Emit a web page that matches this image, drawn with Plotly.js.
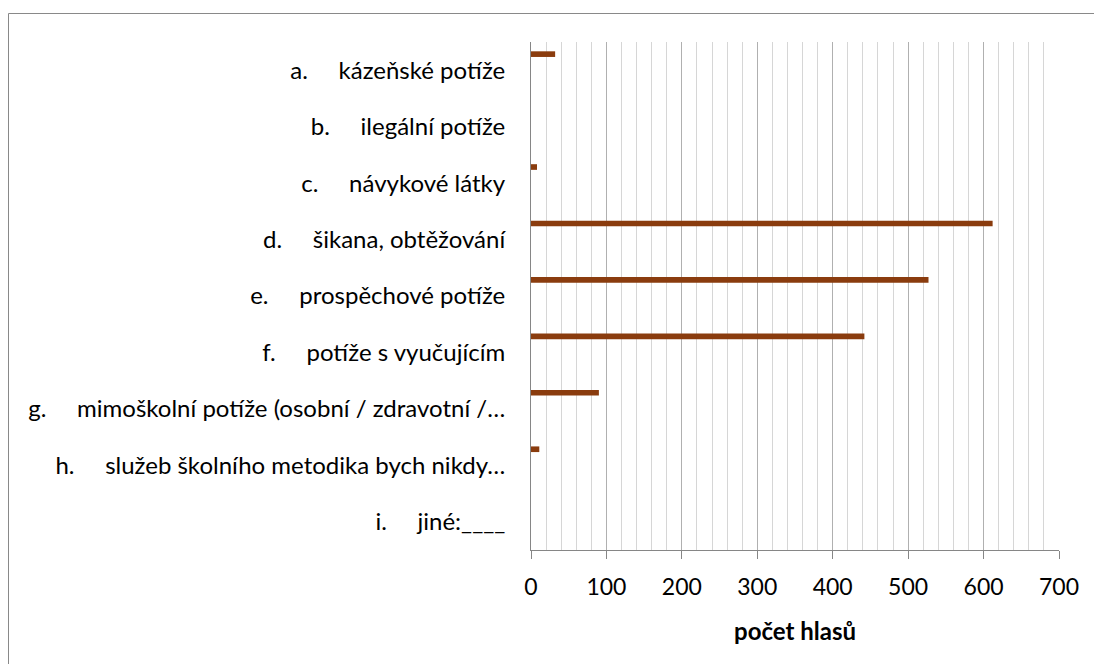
<!DOCTYPE html>
<html>
<head>
<meta charset="utf-8">
<script src="https://cdn.plot.ly/plotly-3.0.1.min.js"></script>
<style>
  html, body { margin: 0; padding: 0; background: #fff; }
  #chart { width: 1094px; height: 664px; }
</style>
</head>
<body>
<div id="chart"></div>
<script>
const GAP = '\u00A0\u00A0\u00A0\u00A0\u00A0';
const letters = ['a.', 'b.', 'c.', 'd.', 'e.', 'f.', 'g.', 'h.', 'i.'];
const names = [
  'kázeňské potíže',
  'ilegální potíže',
  'návykové látky',
  'šikana, obtěžování',
  'prospěchové potíže',
  'potíže s vyučujícím',
  'mimoškolní potíže (osobní / zdravotní /…',
  'služeb školního metodika bych nikdy…',
  'jiné:____'
];
const votes = [32, 0, 8, 612, 527, 442, 90, 11, 0];
const xTickValues = [0, 100, 200, 300, 400, 500, 600, 700];
const xTitle = 'počet hlasů';

const categories = letters.map((l, i) => l + GAP + names[i]);

const trace = {
  type: 'bar',
  orientation: 'h',
  x: votes,
  y: categories,
  offset: -0.335,
  width: 0.1,
  marker: { color: '#8a3c0e', line: { width: 0 } },
  hoverinfo: 'x+y'
};

const layout = {
  width: 1094,
  height: 664,
  margin: { l: 531, r: 35, t: 42, b: 114, pad: 0 },
  paper_bgcolor: '#ffffff',
  plot_bgcolor: '#ffffff',
  showlegend: false,
  font: { family: 'Lato, "Open Sans", sans-serif', size: 24, color: '#000000' },
  xaxis: {
    range: [0, 700],
    tickvals: xTickValues,
    showgrid: true,
    gridcolor: '#b0b0b0',
    gridwidth: 1,
    minor: { dtick: 20, showgrid: true, gridcolor: '#d6d6d6', gridwidth: 1, ticks: '' },
    zeroline: false,
    showline: true,
    linecolor: '#868686',
    linewidth: 1,
    ticks: 'outside',
    ticklen: 8,
    tickcolor: '#868686',
    tickfont: { size: 23 },
    ticklabelstandoff: 8,
    title: { text: xTitle, font: { size: 24, weight: 'bold' }, standoff: 24 },
    fixedrange: true
  },
  yaxis: {
    type: 'category',
    categoryorder: 'array',
    categoryarray: categories,
    range: [8.5, -0.5],
    showgrid: false,
    zeroline: false,
    showline: true,
    linecolor: '#868686',
    linewidth: 1,
    ticks: '',
    tickfont: { size: 24 },
    ticklabelstandoff: 20,
    fixedrange: true
  },
  shapes: [
    {
      type: 'rect', xref: 'paper', yref: 'paper',
      x0: (8.5 - 531) / 528, x1: 1.2,
      y0: -0.5, y1: 1 + (42 - 13.5) / 508,
      line: { color: '#898989', width: 1 },
      fillcolor: 'rgba(0,0,0,0)',
      layer: 'below'
    }
  ]
};

Plotly.newPlot('chart', [trace], layout, { displayModeBar: false, staticPlot: true });
</script>
</body>
</html>
